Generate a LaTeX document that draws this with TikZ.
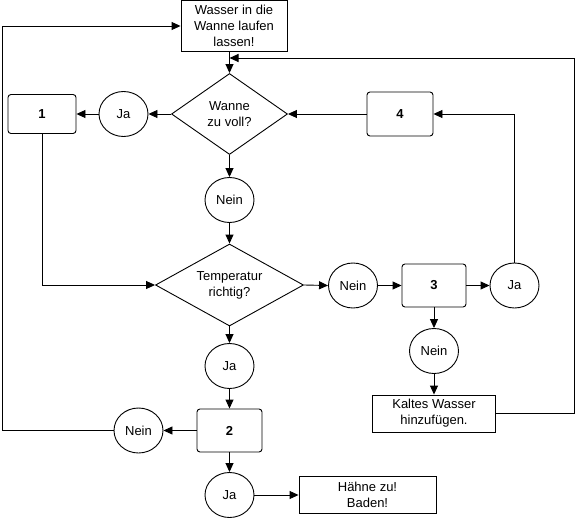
\documentclass[tikz,border=0pt]{standalone}
\usepackage{fontspec}
\setmainfont{Liberation Sans}
\usetikzlibrary{shapes.geometric,arrows.meta}
\begin{document}
\begin{tikzpicture}[x=1pt,y=-1pt,
  font=\fontsize{13}{16}\selectfont,
  line width=0.9pt,
  every node/.style={draw, inner sep=0pt, align=center},
  rbox/.style={rectangle, rounded corners=3pt},
  pbox/.style={rectangle},
  circ/.style={ellipse, minimum width=49pt, minimum height=45pt},
  dia/.style={diamond, aspect=1.6},
  arr/.style={-{Triangle[length=9pt,width=8pt]}},
]
\useasboundingbox (0,0) rectangle (576,519);
% nodes
\node[pbox, minimum width=106pt, minimum height=51pt] (top) at (234,26) {Wasser in die\\Wanne laufen\\lassen!};
\node[dia, minimum width=116pt, minimum height=81pt] (d1) at (229.5,114) {Wanne\\zu voll?};
\node[circ] (ja1) at (123.5,114) {Ja};
\node[rbox, minimum width=68pt, minimum height=39pt] (b1) at (42,114) {\bfseries 1};
\node[rbox, minimum width=66pt, minimum height=44pt] (b4) at (400,114) {\bfseries 4};
\node[circ] (n1) at (229.5,200) {Nein};
\node[dia, minimum width=148pt, minimum height=82pt] (d2) at (229.5,285) {Temperatur\\richtig?};
\node[circ] (n2) at (353,285.5) {Nein};
\node[rbox, minimum width=64pt, minimum height=43pt] (b3) at (434,285.5) {\bfseries 3};
\node[circ] (ja3) at (514.5,285.5) {Ja};
\node[circ] (n3) at (434,351) {Nein};
\node[pbox, minimum width=123pt, minimum height=37pt] (kw) at (434,413.5) {Kaltes Wasser\\hinzufügen.};
\node[circ] (ja2) at (229.5,366) {Ja};
\node[rbox, minimum width=65pt, minimum height=43pt] (b2) at (229.5,430.5) {\bfseries 2};
\node[circ] (n4) at (138.5,430.5) {Nein};
\node[circ] (ja4) at (229.5,495) {Ja};
\node[pbox, minimum width=137pt, minimum height=37pt] (hz) at (367.5,495) {Hähne zu!\\Baden!};
\coordinate (j1) at (229.5,58);
% connectors
\draw[arr] (top.south -| d1.north) -- (d1.north);
\draw[arr] (kw.east) -- ++(78,0) |- (j1);
\draw[arr] (d1.west) -- (ja1.east);
\draw[arr] (ja1.west) -- (b1.east);
\draw[arr] (b4.west) -- (d1.east);
\draw[arr] (d1.south) -- (n1.north);
\draw[arr] (n1.south) -- (d2.north);
\draw[arr] (b1.south) |- (d2.west);
\draw[arr] (d2.east) -- (n2.west);
\draw[arr] (n2.east) -- (b3.west);
\draw[arr] (b3.east) -- (ja3.west);
\draw[arr] (ja3.north) |- (b4.east);
\draw[arr] (b3.south) -- (n3.north);
\draw[arr] (n3.south) -- (kw.north);
\draw[arr] (d2.south) -- (ja2.north);
\draw[arr] (ja2.south) -- (b2.north);
\draw[arr] (b2.west) -- (n4.east);
\draw[arr] (n4.west) -- ++(-111,0) |- (top.west);
\draw[arr] (b2.south) -- (ja4.north);
\draw[arr] (ja4.east) -- (hz.west);
\end{tikzpicture}
\end{document}
